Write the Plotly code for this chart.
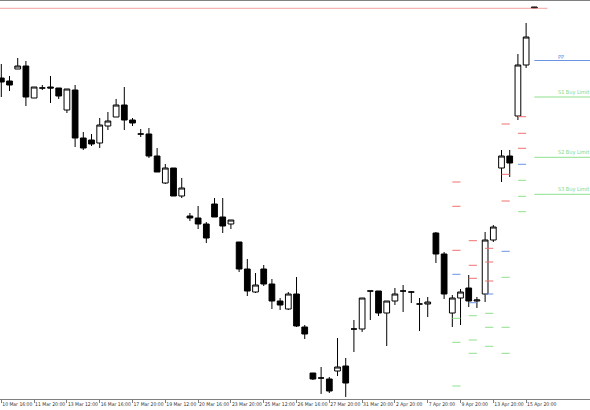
import plotly.graph_objects as go

# price in points (arbitrary scale)
bar_open = [322, 319, 331, 334, 302, 312, 313, 312, 290, 310, 262, 260, 257, 274, 283, 295, 280, 266,
            266, 244, 217, 232, 204, 184, 182, 176, 196, 183, 176, 158, 131, 108, 131, 116, 99, 91,
            106, 73, 27, 22, 21, 29, 34, 71, 71, 109, 109, 87, 99, 109, 108, 96, 96, 167,
            146, 87, 102, 112, 99, 106, 160, 232, 244, 284, 335, 393]
bar_high = [336, 324, 342, 339, 313, 315, 324, 312, 311, 315, 268, 266, 282, 288, 301, 313, 282, 271,
            272, 252, 236, 232, 222, 187, 194, 178, 202, 202, 180, 158, 141, 127, 135, 121, 102, 108,
            123, 75, 27, 33, 23, 62, 42, 80, 102, 109, 109, 99, 112, 115, 109, 102, 103, 168,
            148, 105, 111, 125, 103, 168, 175, 250, 250, 346, 377, 393]
bar_low = [303, 309, 331, 294, 302, 310, 297, 301, 287, 253, 250, 254, 252, 270, 283, 270, 274, 263,
           242, 228, 216, 204, 202, 179, 171, 157, 183, 167, 171, 128, 104, 107, 114, 91, 90, 90,
           73, 61, 20, 6, 7, 24, 3, 48, 68, 80, 84, 54, 95, 88, 97, 69, 83, 137,
           101, 73, 75, 93, 92, 98, 158, 218, 223, 280, 332, 391]
bar_close = [318, 315, 334, 303, 313, 312, 312, 304, 311, 262, 252, 256, 275, 279, 295, 280, 277, 266,
             244, 228, 232, 204, 212, 182, 176, 162, 183, 174, 180, 131, 109, 115, 116, 99, 95, 106,
             74, 66, 21, 22, 9, 33, 17, 71, 102, 109, 87, 99, 106, 109, 108, 96, 98, 146,
             106, 102, 108, 99, 100, 160, 173, 244, 237, 335, 363, 392]

tick_idx = list(range(0, 65, 4))
tick_text = ["10 Mar 16:00", "11 Mar 20:00", "13 Mar 12:00", "16 Mar 16:00", "17 Mar 20:00",
             "19 Mar 12:00", "20 Mar 16:00", "23 Mar 20:00", "25 Mar 12:00", "26 Mar 16:00",
             "27 Mar 20:00", "31 Mar 20:00", "2 Apr 20:00", "7 Apr 20:00", "9 Apr 20:00",
             "13 Apr 20:00", "15 Apr 20:00"]

# pivot stubs drawn per period (first bar of each stub)
pivot_start = [55, 57, 59, 61, 63]
piv_r3 = [218, 159.3, 151.7, 276, 283.3]
piv_r2 = [193.7, 134.7, 138, 225.7, 266.7]
piv_r1 = [149.7, 121.7, 119, 199, 251.7]
piv_pp = [125.7, 97.3, 106, 148.7, 235.7]
piv_s1 = [81.7, 84.3, 86.7, 122.7, 219.7]
piv_s2 = [57.7, 60, 72.7, 72.7, 203.7]
piv_s3 = [14, 46.7, 53.7, 46.7, 188.3]

# pending order levels on the right
order_names = ["PP", "S1 Buy Limit", "S2 Buy Limit", "S3 Buy Limit"]
order_levels = [339.5, 303, 242.7, 205.7]
bid_price = 391.7

RED = "#f07070"
BLUE = "#6d94e2"
GREEN = "#8fe08f"
FONT = "DejaVu Sans Condensed, Liberation Sans Narrow, Arial Narrow, sans-serif"

n = len(bar_open)
x = list(range(n))
x_min, x_max = -0.16, 71.79

fig = go.Figure()

fig.add_trace(go.Candlestick(
    x=x, open=bar_open, high=bar_high, low=bar_low, close=bar_close,
    increasing=dict(line=dict(color="black", width=1), fillcolor="white"),
    decreasing=dict(line=dict(color="black", width=1), fillcolor="black"),
    whiskerwidth=0, showlegend=False, hoverinfo="skip",
))


def stubs(levels_list):
    xs, ys = [], []
    for levels in levels_list:
        for s, v in zip(pivot_start, levels):
            xs += [s, s + 1, None]
            ys += [v, v, None]
    return xs, ys


for lv, col in [([piv_r3, piv_r2, piv_r1], RED), ([piv_pp], BLUE), ([piv_s1, piv_s2, piv_s3], GREEN)]:
    xs, ys = stubs(lv)
    fig.add_trace(go.Scatter(x=xs, y=ys, mode="lines", line=dict(color=col, width=1),
                             showlegend=False, hoverinfo="skip"))

# bid line
fig.add_trace(go.Scatter(x=[x_min, 66.6], y=[bid_price, bid_price], mode="lines",
                         line=dict(color="#f4a0a0", width=1), showlegend=False, hoverinfo="skip"))

# order lines + labels
for name, lvl in zip(order_names, order_levels):
    col = BLUE if name == "PP" else "#7fd87f"
    fig.add_trace(go.Scatter(x=[n - 1, x_max], y=[lvl, lvl], mode="lines",
                             line=dict(color=BLUE if name == "PP" else GREEN, width=1),
                             showlegend=False, hoverinfo="skip"))
    fig.add_annotation(x=67.8, y=lvl, text=name, showarrow=False, xanchor="left", yanchor="bottom",
                       borderpad=0, font=dict(family=FONT, size=5.5, color=col))

fig.update_layout(
    width=590, height=410,
    margin=dict(l=0, r=0, t=1, b=11, autoexpand=False),
    paper_bgcolor="white", plot_bgcolor="white",
    xaxis=dict(range=[x_min, x_max], rangeslider=dict(visible=False), showgrid=False, zeroline=False,
               tickmode="array", tickvals=tick_idx, ticktext=tick_text, tickangle=0,
               ticks="outside", ticklen=3, tickcolor="#808080", automargin=False,
               ticklabelposition="outside right",
               tickfont=dict(family=FONT, size=5, color="#333333"),
               showline=True, linecolor="#808080", linewidth=1, mirror=True),
    yaxis=dict(range=[1, 399], showgrid=False, zeroline=False, showticklabels=False, ticks="",
               automargin=False),
    boxgap=0.3, boxgroupgap=0,
)

fig.write_html("out.html", config={"displayModeBar": False},
               post_script="document.body.style.margin='0';")
